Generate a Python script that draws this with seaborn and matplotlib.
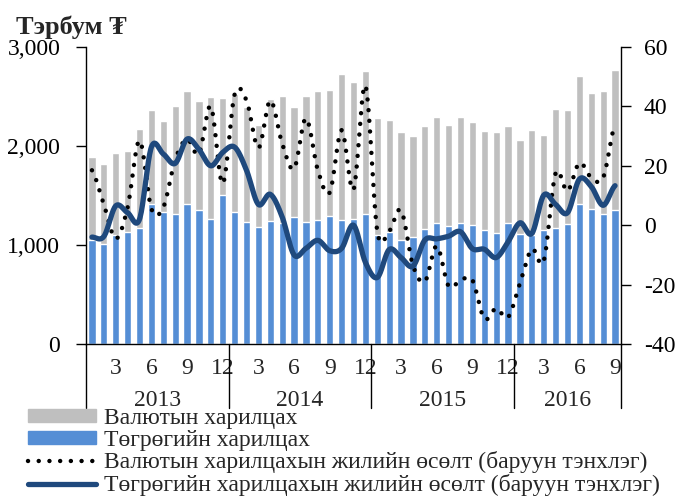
import numpy as np
import pandas as pd
import seaborn as sns
import matplotlib
matplotlib.use("Agg")
from matplotlib import pyplot as plt
from matplotlib.patches import Patch
from matplotlib.lines import Line2D
from matplotlib.ticker import StrMethodFormatter
import matplotlib.transforms as mtransforms

years = ['2013', '2014', '2015', '2016']
months_in_year = [12, 12, 12, 9]

# төгрөгийн харилцах (тэрбум ₮)
tugrik = [1054, 1007, 1098, 1131, 1172, 1417, 1333, 1313, 1411, 1353, 1263, 1505,
          1333, 1232, 1182, 1242, 1222, 1283, 1232, 1252, 1293, 1252, 1259, 1313,
          1101, 1131, 1050, 1081, 1162, 1222, 1192, 1222, 1199, 1151, 1121, 1222,
          1114, 1104, 1151, 1168, 1212, 1414, 1367, 1313, 1357]
# валютын харилцах (тэрбум ₮)
fx = [836, 808, 828, 818, 996, 943, 922, 1094, 1144, 1101, 1235, 978,
      1192, 1159, 1030, 1229, 1283, 1108, 1273, 1300, 1269, 1475, 1391, 1444,
      1182, 1127, 1090, 1024, 1040, 1071, 1020, 1071, 1045, 1000, 1019, 982,
      948, 1054, 960, 1208, 1151, 1294, 1165, 1247, 1415]
# жилийн өсөлт, %
fx_growth = [18.5, 7, -4.5, 6, 28.5, 5.5, 6, 22, 29, 24, 40, 14,
             44, 42, 26, 42, 27.5, 19, 36, 18.5, 11, 32, 12, 47,
             -2, -2, 5, -13.5, -19, -7, -20.5, -18.5, -18.5, -31.5, -28, -31,
             -19.5, -8, -12, 17.5, 11.5, 21, 16, 16, 34]
mnt_growth = [-4, -3.8, 6.5, 4.2, 2, 26.3, 24, 20.8, 29, 25.5, 20, 24.5,
              26.3, 18.5, 7, 10.4, 2.8, -10, -7.8, -5.1, -8.6, -7.8, 0, -12.5,
              -17.6, -8.2, -10.9, -13.8, -5, -4.6, -3.7, -2.2, -7.9, -8.1, -10.9, -5.6,
              0.8, -2.8, 10.1, 7, 4.2, 15.5, 13, 6.7, 13.3]

labels = ['Валютын харилцах', 'Төгрөгийн харилцах',
          'Валютын харилцахын жилийн өсөлт (баруун тэнхлэг)',
          'Төгрөгийн харилцахын жилийн өсөлт (баруун тэнхлэг)']

GREY = '#BFBFBF'
BLUE = '#558ED5'
NAVY = '#1F497D'
FS = 17

sns.set_style('ticks')
plt.rcParams['font.family'] = ['Liberation Serif', 'DejaVu Serif']
plt.rcParams['axes.unicode_minus'] = False


def smooth(y, n=20):
    # excel-like smoothed line (catmull-rom)
    y = np.asarray(y, float)
    xs, ys = [], []
    for i in range(len(y) - 1):
        p0 = y[i - 1] if i > 0 else y[i]
        p1, p2 = y[i], y[i + 1]
        p3 = y[i + 2] if i + 2 < len(y) else y[i + 1]
        m1, m2 = (p2 - p0) / 2, (p3 - p1) / 2
        t = np.linspace(0, 1, n, endpoint=(i == len(y) - 2))
        h = (2*t**3 - 3*t**2 + 1)*p1 + (t**3 - 2*t**2 + t)*m1 + (-2*t**3 + 3*t**2)*p2 + (t**3 - t**2)*m2
        xs.extend(i + t)
        ys.extend(h)
    return np.array(xs), np.array(ys)


idx = np.arange(len(tugrik))
df = pd.DataFrame({'idx': idx, 'tugrik': tugrik,
                   'total': np.array(tugrik) + np.array(fx)})

fig = plt.figure(figsize=(6.76, 5.01), dpi=100)
ax = fig.add_axes([86/676, 1 - 344/501, 535/676, 297/501])

sns.barplot(data=df, x='idx', y='total', color=GREY, width=0.6, saturation=1, ax=ax)
sns.barplot(data=df, x='idx', y='tugrik', color=BLUE, width=0.6, saturation=1, ax=ax)
ax.set_xlim(-0.5, len(idx) - 0.5)
ax.set_ylim(0, 3000)
ax.set_yticks([0, 1000, 2000, 3000])
ax.yaxis.set_major_formatter(StrMethodFormatter('{x:,.0f}'))
ax.set_xlabel('')
ax.set_ylabel('')

mpos = [i for i in idx if (i % 12 + 1) % 3 == 0]
ax.set_xticks(mpos)
ax.set_xticklabels([str(i % 12 + 1) for i in mpos])
ax.tick_params(axis='x', length=0, pad=10, labelsize=FS)
ax.tick_params(axis='y', direction='out', length=7, width=1, pad=11.5, labelsize=FS, colors='black')
for s in ['top', 'right']:
    ax.spines[s].set_visible(False)
for s in ['left', 'bottom']:
    ax.spines[s].set_color('black')
    ax.spines[s].set_linewidth(1)

ax2 = ax.twinx()
xs, ys = smooth(fx_growth)
sns.lineplot(x=xs, y=ys, ax=ax2, color='black', lw=3.2, linestyle=(0, (0.01, 2.4)),
             dash_capstyle='round', estimator=None, sort=False)
xs, ys = smooth(mnt_growth)
sns.lineplot(x=xs, y=ys, ax=ax2, color=NAVY, lw=3.8, estimator=None, sort=False,
             solid_capstyle='round')
ax2.set_ylim(-40, 60)
ax2.set_yticks([-40, -20, 0, 20, 40, 60])
ax2.tick_params(axis='y', direction='out', length=7, width=1, pad=9.5, labelsize=FS, colors='black')
for s in ['top', 'left', 'bottom']:
    ax2.spines[s].set_visible(False)
ax2.spines['right'].set_color('black')
ax2.spines['right'].set_linewidth(1)
ax2.set_xlim(-0.5, len(idx) - 0.5)

# year separators and year labels
trans = mtransforms.blended_transform_factory(ax.transData, ax.transAxes)
bounds = np.concatenate([[0], np.cumsum(months_in_year)]) - 0.5
for b in bounds:
    ax.plot([b, b], [0, -0.215], transform=trans, clip_on=False, color='black', lw=1)
for y, a, b in zip(years, bounds[:-1], bounds[1:]):
    ax.text((a + b) / 2, -0.19, y, transform=trans, ha='center', va='center', fontsize=FS)

handles = [Patch(color=GREY), Patch(color=BLUE),
           Line2D([], [], color='black', lw=3.2, linestyle=(0, (0.01, 2.4)), dash_capstyle='round'),
           Line2D([], [], color=NAVY, lw=3.8, solid_capstyle='round')]
fig.legend(handles, labels, loc='upper left', bbox_to_anchor=(28/676, 1 - 408/501),
           frameon=False, fontsize=FS, handlelength=2.9, handletextpad=0.3,
           handleheight=0.5, labelspacing=0.03, borderpad=0, borderaxespad=0)

fig.text(16/676, 1 - 27/501, 'Тэрбум ₮', fontsize=19, fontweight='bold', va='center')

fig.savefig('out.png', dpi=100)
